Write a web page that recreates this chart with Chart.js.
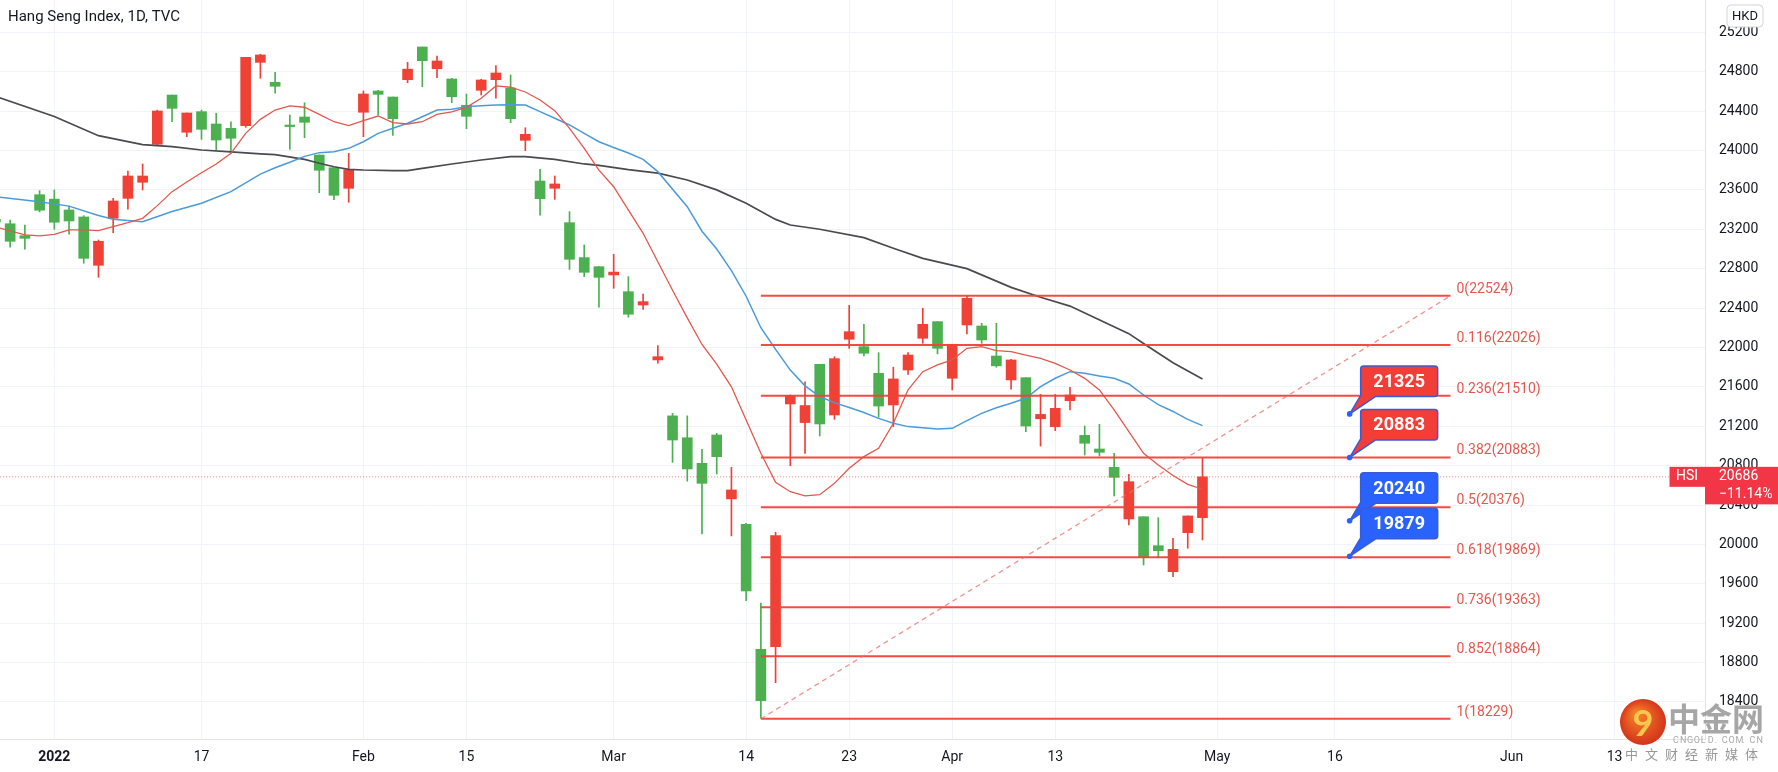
<!DOCTYPE html>
<html>
<head>
<meta charset="utf-8">
<title>Hang Seng Index, 1D, TVC</title>
<script src="https://cdn.jsdelivr.net/npm/chart.js@4.4.1/dist/chart.umd.min.js"></script>
<style>
  html, body { margin: 0; padding: 0; background: #ffffff; }
  #wrap { position: relative; width: 1778px; height: 772px; }
</style>
</head>
<body>
<div id="wrap"><canvas id="hsiChart" width="1778" height="772"></canvas></div>
<script>
/* ====================================================================
   DATA : daily candles, index 0 = 3 Jan 2022, one step per trading day
   (first candle = 28 Dec 2021, last = 29 Apr 2022 intraday)
   ==================================================================== */
const firstIndex = -4;

const opens = [23300, 23256, 23135, 23551, 23506, 23396, 23325, 22834, 23311, 23514,
  23677, 24063, 24563, 24185, 24394, 24269, 24225, 24252, 24895, 24692,
  24250, 24340, 23954, 23825, 23616, 24388, 24604, 24543, 24719, 25051,
  24830, 24726, 24459, 24611, 24719, 24634, 24103, 23690, 23616, 23267,
  22912, 22820, 22736, 22566, 22431, 21873, 21305, 21083, 20823, 21111,
  20462, 20204, 18935, 18962, 21426, 21237, 21829, 21314, 22083, 22008,
  21737, 21416, 21771, 22093, 22262, 21687, 22228, 22218, 21913, 21670,
  21693, 21276, 21195, 21459, 21107, 20969, 20783, 20258, 20281, 19987,
  19723, 20119, 20271];

const highs = [23330, 23294, 23243, 23592, 23599, 23436, 23338, 23091, 23514, 23792,
  23863, 24410, 24563, 24381, 24411, 24378, 24292, 24946, 24977, 24794,
  24360, 24485, 23954, 23825, 23971, 24604, 24611, 24543, 24895, 25051,
  24959, 24733, 24574, 24723, 24861, 24767, 24231, 23809, 23741, 23379,
  23041, 22820, 22946, 22719, 22543, 22018, 21331, 21305, 20966, 21128,
  20783, 20215, 19403, 20123, 21517, 21652, 21829, 21906, 22427, 22235,
  21947, 21799, 21947, 22398, 22262, 22032, 22525, 22245, 22245, 21880,
  21693, 21524, 21523, 21595, 21202, 21219, 20925, 20712, 20281, 20271,
  20062, 20289, 20874];

const lows = [23210, 23017, 22997, 23376, 23200, 23149, 22855, 22712, 23165, 23403,
  23599, 24050, 24292, 24140, 24113, 24005, 23971, 24235, 24733, 24581,
  24012, 24130, 23571, 23500, 23474, 24140, 24360, 24154, 24688, 24648,
  24739, 24485, 24221, 24563, 24530, 24282, 23998, 23342, 23504, 22793,
  22719, 22408, 22601, 22306, 22387, 21839, 20833, 20642, 20106, 20715,
  20086, 19429, 18235, 18596, 20799, 20925, 21101, 21270, 21991, 21913,
  21291, 21196, 21727, 22042, 21934, 21568, 22137, 22042, 21799, 21575,
  21145, 20998, 21155, 21365, 20907, 20898, 20492, 20197, 19791, 19869,
  19672, 19961, 20045];

const closes = [23275, 23078, 23108, 23393, 23271, 23284, 22905, 23078, 23487, 23741,
  23741, 24401, 24428, 24381, 24215, 24106, 24124, 24946, 24970, 24652,
  24243, 24286, 23799, 23545, 23805, 24574, 24570, 24323, 24826, 24912,
  24909, 24546, 24347, 24716, 24787, 24323, 24164, 23511, 23660, 22895,
  22763, 22712, 22765, 22337, 22465, 21906, 21060, 20766, 20620, 20891,
  20553, 19527, 18413, 20089, 21510, 21410, 21223, 21886, 22160, 21941,
  21405, 21680, 21923, 22235, 21991, 22032, 22499, 22076, 21813, 21873,
  21202, 21320, 21382, 21517, 21027, 20935, 20681, 20637, 19865, 19936,
  19950, 20289, 20686];

const maFast = [[-4, 23225], [-2, 23142], [-1, 23132], [0, 23149], [1, 23193], [2, 23193],
  [3, 23186], [4, 23227], [5, 23267], [6, 23311], [7, 23440], [8, 23582], [9, 23680],
  [10, 23774], [11, 23863], [12, 23971], [13, 24174], [14, 24316], [15, 24411], [16, 24452],
  [17, 24439], [18, 24367], [19, 24292], [20, 24252], [21, 24302], [22, 24350], [23, 24282],
  [24, 24269], [25, 24292], [26, 24367], [27, 24391], [28, 24438], [29, 24530], [30, 24655],
  [31, 24642], [32, 24594], [33, 24513], [34, 24404], [35, 24225], [36, 24022], [37, 23800],
  [38, 23632], [40, 23159], [41, 22870], [42, 22580], [43, 22300], [44, 22030], [45, 21830],
  [46, 21600], [47, 21263], [48, 20925], [49, 20630], [50, 20535], [51, 20492], [52, 20505],
  [53, 20620], [54, 20773], [55, 20891], [56, 20976], [57, 21230], [58, 21570], [59, 21754],
  [60, 21822], [61, 21873], [62, 21991], [63, 22008], [64, 21967], [65, 21957], [66, 21923],
  [67, 21889], [68, 21838], [69, 21771], [70, 21686], [71, 21568], [72, 21365], [73, 21145],
  [74, 20925], [75, 20806], [76, 20700], [77, 20610], [78, 20560]];

const maMid = [[-4, 23530], [-1, 23480], [1, 23435], [3, 23340], [4, 23302], [6, 23277],
  [8, 23380], [10, 23465], [12, 23582], [14, 23760], [15, 23825], [16, 23880], [17, 23940],
  [18, 23978], [19, 23988], [20, 24022], [21, 24089], [22, 24174], [23, 24225], [24, 24276],
  [25, 24343], [26, 24411], [27, 24418], [28, 24445], [29, 24455], [30, 24462], [31, 24465],
  [32, 24462], [33, 24394], [34, 24327], [35, 24259], [36, 24174], [37, 24089], [38, 24030],
  [39, 23975], [40, 23910], [41, 23785], [43, 23429], [44, 23180], [45, 23000], [46, 22780],
  [47, 22520], [48, 22200], [49, 21980], [50, 21770], [51, 21610], [52, 21500], [53, 21440],
  [54, 21390], [55, 21340], [56, 21280], [57, 21230], [58, 21196], [59, 21185], [60, 21172],
  [61, 21179], [62, 21257], [63, 21331], [64, 21388], [65, 21433], [66, 21484], [67, 21602],
  [68, 21687], [69, 21754], [70, 21737], [71, 21710], [72, 21687], [73, 21629], [74, 21517],
  [75, 21420], [76, 21350], [77, 21270], [78, 21206]];

const maSlow = [[-4, 24550], [0, 24345], [3, 24150], [6, 24060], [8, 24039], [10, 24005],
  [12, 23985], [14, 23965], [15, 23958], [17, 23910], [18, 23870], [19, 23835], [20, 23809],
  [21, 23802], [23, 23795], [24, 23795], [25, 23819], [27, 23863], [29, 23903], [31, 23937],
  [32, 23937], [34, 23910], [36, 23863], [37, 23849], [39, 23805], [41, 23770], [43, 23700],
  [45, 23600], [47, 23464], [49, 23300], [50, 23243], [52, 23200], [55, 23115], [57, 23007],
  [59, 22905], [62, 22800], [65, 22610], [67, 22510], [69, 22420], [73, 22140], [74, 22040],
  [76, 21845], [78, 21680]];

// Fibonacci retracement (drawn from the 15 Mar low to the 22524 level)
const fibRatios = [0, 0.116, 0.236, 0.382, 0.5, 0.618, 0.736, 0.852, 1];
const fibPrices = [22524, 22026, 21510, 20883, 20376, 19869, 19363, 18864, 18229];
const fibFrom = 48;
const fibTo = 94.85;

// callout notes
const calloutPrices = [21325, 20883, 20240, 19879];
const calloutKinds = ['up', 'up', 'down', 'down'];
const calloutIndex = 88;

// last price tag
const lastPrice = 20686;
const lastChange = '\u221211.14%';

// axes
const xTickIdx = [0, 10, 21, 28, 38, 47, 54, 61, 68, 79, 87, 99, 106];
const xTickLabels = ['2022', '17', 'Feb', '15', 'Mar', '14', '23', 'Apr', '13', 'May', '16', 'Jun', '13'];
const yTicks = [18400, 18800, 19200, 19600, 20000, 20400, 20800, 21200, 21600, 22000,
  22400, 22800, 23200, 23600, 24000, 24400, 24800, 25200];

/* ====================================================================
   STYLE
   ==================================================================== */
const UP = '#f04137';
const DOWN = '#4caf50';
const FONT = 'Roboto, "Liberation Sans", sans-serif';
const TEXT = '#131722';

const candleColor = (k) => (closes[k] >= opens[k] ? UP : DOWN);
const toPoints = (arr) => arr.map(([i, v]) => ({ x: i, y: v }));

const bodyData = opens.map((o, k) => ({ x: firstIndex + k, y: [o, closes[k]] }));
const wickData = lows.map((l, k) => ({ x: firstIndex + k, y: [l, highs[k]] }));

const fibDatasets = fibPrices.map((p) => ({
  type: 'line',
  data: [{ x: fibFrom, y: p }, { x: fibTo, y: p }],
  borderColor: 'rgba(240, 66, 56, 0.95)',
  borderWidth: 2,
  pointRadius: 0,
  order: 3
}));

/* ====================================================================
   OVERLAY : fib labels, callouts, title, price tag, watermark
   ==================================================================== */
function roundRect(ctx, x, y, w, h, r) {
  ctx.beginPath();
  ctx.moveTo(x + r, y);
  ctx.arcTo(x + w, y, x + w, y + h, r);
  ctx.arcTo(x + w, y + h, x, y + h, r);
  ctx.arcTo(x, y + h, x, y, r);
  ctx.arcTo(x, y, x + w, y, r);
  ctx.closePath();
}

const overlay = {
  id: 'overlay',
  afterDatasetsDraw(chart) {
    const { ctx, scales: { x, y } } = chart;
    ctx.save();

    // fib level labels
    ctx.font = `14px ${FONT}`;
    ctx.fillStyle = '#e5574d';
    ctx.textAlign = 'left';
    ctx.textBaseline = 'alphabetic';
    fibRatios.forEach((r, k) => {
      const px = x.getPixelForValue(fibTo) + 6;
      const py = y.getPixelForValue(fibPrices[k]) - 3;
      ctx.fillText(`${r}(${fibPrices[k]})`, px, py);
    });

    // callouts
    calloutPrices.forEach((p, k) => {
      const ax = x.getPixelForValue(calloutIndex);
      const ay = y.getPixelForValue(p);
      const bx = ax + 11, by = ay - 48, bw = 77, bh = 30.5, r = 3;
      ctx.beginPath();
      ctx.moveTo(bx + r, by);
      ctx.lineTo(bx + bw - r, by);
      ctx.arcTo(bx + bw, by, bx + bw, by + r, r);
      ctx.lineTo(bx + bw, by + bh - r);
      ctx.arcTo(bx + bw, by + bh, bx + bw - r, by + bh, r);
      ctx.lineTo(bx + 15, by + bh);
      ctx.lineTo(ax, ay);
      ctx.lineTo(bx, by + bh - 1);
      ctx.lineTo(bx, by + r);
      ctx.arcTo(bx, by, bx + r, by, r);
      ctx.closePath();
      ctx.fillStyle = calloutKinds[k] === 'up' ? '#f23e36' : '#2962ff';
      ctx.fill();
      ctx.lineWidth = 1.5;
      ctx.strokeStyle = '#3a5ad8';
      ctx.stroke();

      ctx.fillStyle = '#ffffff';
      ctx.font = `bold 18px ${FONT}`;
      ctx.textAlign = 'center';
      ctx.textBaseline = 'middle';
      ctx.fillText(String(p), bx + bw / 2, by + bh / 2 + 1);

      ctx.beginPath();
      ctx.arc(ax, ay, 2.8, 0, Math.PI * 2);
      ctx.fillStyle = '#2962ff';
      ctx.fill();
    });
    ctx.restore();
  },

  afterDraw(chart) {
    const { ctx, chartArea, scales: { y } } = chart;
    ctx.save();

    // title
    ctx.font = `15px ${FONT}`;
    ctx.fillStyle = TEXT;
    ctx.textAlign = 'left';
    ctx.textBaseline = 'middle';
    ctx.fillText('Hang Seng Index, 1D, TVC', 8, 17);

    // currency box
    roundRect(ctx, 1727, 5, 36, 22, 4);
    ctx.fillStyle = '#ffffff';
    ctx.fill();
    ctx.strokeStyle = '#d1d4dc';
    ctx.lineWidth = 1;
    ctx.stroke();
    ctx.fillStyle = TEXT;
    ctx.font = `13px ${FONT}`;
    ctx.textAlign = 'center';
    ctx.fillText('HKD', 1745, 16.5);

    // last price tag
    const py = y.getPixelForValue(lastPrice);
    ctx.fillStyle = '#f23645';
    ctx.fillRect(chartArea.right - 35.5, py - 10, 35.5, 20);
    ctx.fillRect(chartArea.right, py - 10, 1778 - chartArea.right, 37.5);
    ctx.fillStyle = '#ffffff';
    ctx.font = `14px ${FONT}`;
    ctx.textAlign = 'center';
    ctx.fillText('HSI', chartArea.right - 18, py);
    ctx.textAlign = 'left';
    ctx.fillText(String(lastPrice), chartArea.right + 14, py);
    ctx.fillText(lastChange, chartArea.right + 14, py + 18);

    // watermark
    const cx = 1643, cy = 722;
    const g = ctx.createRadialGradient(cx - 6, cy - 8, 4, cx, cy, 24);
    g.addColorStop(0, '#f47a26');
    g.addColorStop(1, '#d2311b');
    ctx.beginPath();
    ctx.arc(cx, cy, 23, 0, Math.PI * 2);
    ctx.fillStyle = g;
    ctx.fill();
    ctx.fillStyle = '#f8c74e';
    ctx.font = 'bold 36px Lato, sans-serif';
    ctx.textAlign = 'center';
    ctx.fillText('9', cx, cy + 2);

    ctx.fillStyle = 'rgba(150, 150, 150, 0.85)';
    ctx.font = 'bold 32px "Noto Sans CJK SC"';
    ctx.textAlign = 'left';
    ctx.fillText('中金网', 1668, 719);
    ctx.font = `9px ${FONT}`;
    ctx.fillStyle = 'rgba(160, 160, 160, 0.9)';
    const site = 'CNGOLD.COM.CN';
    for (let k = 0; k < site.length; k++) ctx.fillText(site[k], 1673 + k * 6.95, 741);
    ctx.font = '13px "Noto Sans CJK SC"';
    ctx.fillStyle = 'rgba(140, 140, 140, 0.9)';
    const slogan = '中文财经新媒体';
    for (let k = 0; k < slogan.length; k++) ctx.fillText(slogan[k], 1625 + k * 20, 754);

    ctx.restore();
  }
};

/* ====================================================================
   CHART
   ==================================================================== */
new Chart(document.getElementById('hsiChart'), {
  type: 'bar',
  data: {
    datasets: [
      {
        label: 'wick',
        data: wickData,
        backgroundColor: (c) => candleColor(c.dataIndex),
        barThickness: 1,
        grouped: false,
        order: 10
      },
      {
        label: 'body',
        data: bodyData,
        backgroundColor: (c) => candleColor(c.dataIndex),
        barThickness: 10,
        minBarLength: 1.5,
        grouped: false,
        order: 9
      },
      {
        type: 'line', label: 'MA fast', data: toPoints(maFast),
        borderColor: '#e2584c', borderWidth: 1.3, pointRadius: 0, order: 5
      },
      {
        type: 'line', label: 'MA mid', data: toPoints(maMid),
        borderColor: '#4b9ad9', borderWidth: 1.5, pointRadius: 0, order: 5
      },
      {
        type: 'line', label: 'MA slow', data: toPoints(maSlow),
        borderColor: '#4a4a4f', borderWidth: 1.7, pointRadius: 0, order: 5
      },
      {
        type: 'line', label: 'last',
        data: [{ x: -10, y: lastPrice }, { x: 200, y: lastPrice }],
        borderColor: 'rgba(220, 90, 80, 0.7)', borderWidth: 1, borderDash: [1, 2],
        pointRadius: 0, order: 4
      },
      {
        type: 'line', label: 'trend',
        data: [{ x: fibFrom, y: fibPrices[fibPrices.length - 1] }, { x: fibTo, y: fibPrices[0] }],
        borderColor: 'rgba(236, 110, 100, 0.75)', borderWidth: 1.3, borderDash: [5, 4],
        pointRadius: 0, order: 2
      },
      ...fibDatasets
    ]
  },
  options: {
    responsive: false,
    animation: false,
    devicePixelRatio: 1,
    layout: { padding: 0 },
    plugins: { legend: { display: false }, tooltip: { enabled: false } },
    scales: {
      x: {
        type: 'linear',
        min: -3.689,
        max: 112.14,
        offset: false,
        grid: { color: '#f0f3fa', offset: false, drawTicks: false },
        border: { color: '#e0e3eb' },
        ticks: {
          autoSkip: false,
          maxRotation: 0,
          padding: 10,
          color: TEXT,
          font: (c) => ({ family: FONT, size: 14, weight: c.tick && c.tick.value === 0 ? 'bold' : 'normal' }),
          callback: (v) => xTickLabels[xTickIdx.indexOf(v)]
        },
        afterBuildTicks: (s) => { s.ticks = xTickIdx.map((v) => ({ value: v })); },
        afterFit: (s) => { s.height = 33; s.paddingLeft = 0; s.paddingRight = 0; }
      },
      y: {
        position: 'right',
        min: 18024,
        max: 25528,
        grid: { color: '#f0f3fa', drawTicks: false },
        border: { color: '#e0e3eb' },
        ticks: {
          autoSkip: false,
          padding: 14,
          color: TEXT,
          font: { family: FONT, size: 14 },
          callback: (v) => String(v)
        },
        afterBuildTicks: (s) => { s.ticks = yTicks.map((v) => ({ value: v })); },
        afterFit: (s) => { s.width = 73; s.paddingTop = 0; s.paddingBottom = 0; }
      }
    }
  },
  plugins: [overlay]
});
</script>
</body>
</html>
